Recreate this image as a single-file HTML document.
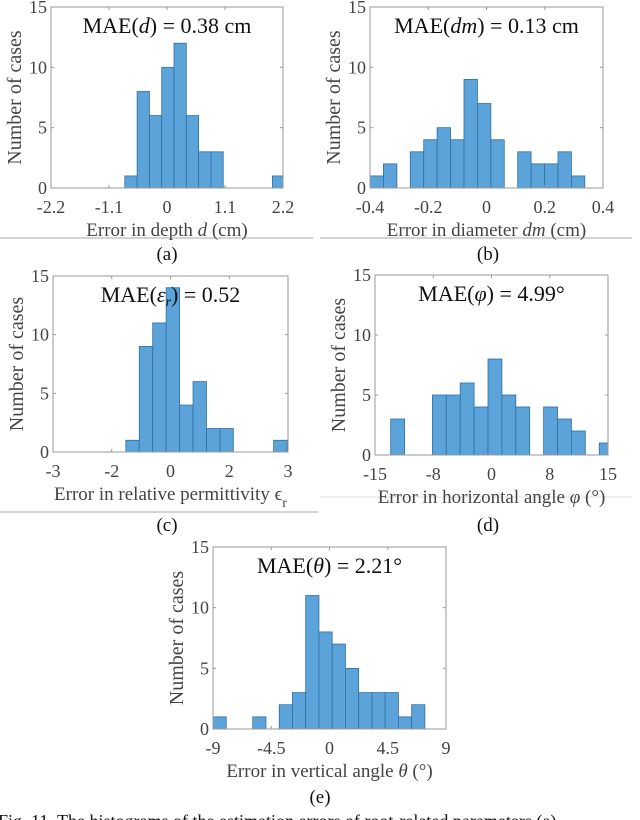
<!DOCTYPE html>
<html><head><meta charset="utf-8">
<style>
html,body{margin:0;padding:0;background:#fff;}
svg{display:block;font-family:"Liberation Serif","DejaVu Serif",serif;}
text{font-family:"Liberation Serif","DejaVu Serif",serif;}
</style></head>
<body>
<svg id="fig" width="640" height="820" viewBox="0 0 640 820" xmlns="http://www.w3.org/2000/svg">
<line x1="0" y1="238" x2="313" y2="238" stroke="#aaa" stroke-width="1"/>
<line x1="320" y1="238" x2="632" y2="238" stroke="#aaa" stroke-width="1"/>
<line x1="0" y1="512" x2="318" y2="512" stroke="#aaa" stroke-width="1"/>
<line x1="320" y1="497" x2="632" y2="497" stroke="#ddd" stroke-width="1"/>
<text x="167" y="260" font-size="19" text-anchor="middle" fill="#111">(a)</text>
<text x="488" y="260" font-size="19" text-anchor="middle" fill="#111">(b)</text>
<text x="167" y="531" font-size="19" text-anchor="middle" fill="#111">(c)</text>
<text x="488" y="531" font-size="19" text-anchor="middle" fill="#111">(d)</text>
<text x="320" y="803" font-size="19" text-anchor="middle" fill="#111">(e)</text>
<text x="-2" y="827" font-size="18" fill="#111">Fig. 11. The histograms of the estimation errors of root-related parameters (a)</text>
</svg>
<script>
// Panel (a) depth
const countsA = [1,8,6,10,12,6,3,3,0,0,0,0,1];
const ticksA = ["-2.2","-1.1","0","1.1","2.2"];
const tickValsA = [-2.2,-1.1,0,1.1,2.2];
// Panel (b) diameter
const countsB = [1,2,0,3,4,5,4,9,7,4,0,3,2,2,3,1];
const ticksB = ["-0.4","-0.2","0","0.2","0.4"];
const tickValsB = [-0.4,-0.2,0,0.2,0.4];
// Panel (c) permittivity
const countsC = [1,9,11,14,4,6,2,2,0,0,0,1];
const ticksC = ["-3","-2","0","2","3"];
const tickValsC = [-3,-1.5,0,1.5,3];
// Panel (d) horizontal angle
const countsD = [3,0,0,5,5,6,4,8,5,4,0,4,3,2,0,1];
const ticksD = ["-15","-8","0","8","15"];
const tickValsD = [-15,-7.5,0,7.5,15];
// Panel (e) vertical angle
const countsE = [1,0,0,1,0,2,3,11,8,7,5,3,3,3,1,2];
const ticksE = ["-9","-4.5","0","4.5","9"];
const tickValsE = [-9,-4.5,0,4.5,9];
const yTicks = [0,5,10,15];

const NS = "http://www.w3.org/2000/svg";
const FONT = '"Liberation Serif","DejaVu Serif",serif';
const svg = document.getElementById('fig');
function mk(tag, attrs, parent){
  const e = document.createElementNS(NS, tag);
  for (const k in attrs) e.setAttribute(k, attrs[k]);
  if (tag === 'text') e.setAttribute('font-family', FONT);
  (parent||svg).appendChild(e);
  return e;
}
function panel(id, box, xmin, xmax, binStart, binW, counts, tickVals, tickLabels, titleHTML, xlabelHTML){
  const g = mk('g', {});
  
  
  const {x0,x1,y0,y1} = box;
  const sx = v => x0 + (v - xmin) / (xmax - xmin) * (x1 - x0);
  const sy = v => y1 - v / 15 * (y1 - y0);
  const clip = mk('clipPath', {id:'clip-'+id}, g);
  mk('rect', {x:x0, y:y0, width:x1-x0, height:y1-y0}, clip);
  const bars = mk('g', {'clip-path':'url(#clip-'+id+')'}, g);
  counts.forEach((c, i) => {
    if (c <= 0) return;
    const a = sx(binStart + i*binW), b = sx(binStart + (i+1)*binW);
    const r = mk('rect', {x:a, y:sy(c), width:b-a, height:sy(0)-sy(c), fill:'#5ba3d9', stroke:'#2e6fa6', 'stroke-width':0.8}, bars);
    
    
  });
  const frame = mk('rect', {x:x0, y:y0, width:x1-x0, height:y1-y0, fill:'none', stroke:'#999', 'stroke-width':1}, g);
  
  
  yTicks.forEach(t => {
    const y = sy(t);
    mk('line', {x1:x0, y1:y, x2:x0+3, y2:y, stroke:'#999'}, g);
    mk('line', {x1:x1, y1:y, x2:x1-3, y2:y, stroke:'#999'}, g);
    const tx = mk('text', {x:x0-4, y:y+6, 'font-size':18, 'text-anchor':'end', fill:'#444'}, g);
    tx.textContent = t;
    
    
  });
  tickVals.forEach((v, i) => {
    const x = sx(v);
    mk('line', {x1:x, y1:y1, x2:x, y2:y1-3, stroke:'#999'}, g);
    mk('line', {x1:x, y1:y0, x2:x, y2:y0+3, stroke:'#999'}, g);
    const tx = mk('text', {x:x, y:y1+25, 'font-size':18, 'text-anchor':'middle', fill:'#444'}, g);
    tx.textContent = tickLabels[i];
    
    
  });
  const yl = mk('text', {x:0, y:0, 'font-size':20, 'text-anchor':'middle', fill:'#444', transform:'translate('+(x0-30)+','+((y0+y1)/2)+') rotate(-90)'}, g);
  yl.textContent = 'Number of cases';
  
  
  const xl = mk('text', {x:(x0+x1)/2, y:y1+48, 'font-size':19, 'text-anchor':'middle', fill:'#444'}, g);
  xl.innerHTML = xlabelHTML;
  
  
  const tt = mk('text', {x:(x0+x1)/2, y:y0+26, 'font-size':22, 'text-anchor':'middle', fill:'#111'}, g);
  tt.innerHTML = titleHTML;
  
  
}
panel('a', {x0:51,x1:283,y0:7,y1:188}, -2.2, 2.2, -0.8, 0.2333, countsA, tickValsA, ticksA,
  'MAE(<tspan font-style="italic">d</tspan>) = 0.38 cm', 'Error in depth <tspan font-style="italic">d</tspan> (cm)');
panel('b', {x0:370,x1:603,y0:7,y1:188}, -0.4, 0.4, -0.4, 0.0461, countsB, tickValsB, ticksB,
  'MAE(<tspan font-style="italic">dm</tspan>) = 0.13 cm', 'Error in diameter <tspan font-style="italic">dm</tspan> (cm)');
panel('c', {x0:53,x1:288,y0:276,y1:452}, -3, 3, -1.14, 0.343, countsC, tickValsC, ticksC,
  'MAE(<tspan font-style="italic">ε</tspan><tspan font-size="14" dy="4" font-style="italic">r</tspan><tspan dy="-4">) = 0.52</tspan>', 'Error in relative permittivity ϵ<tspan font-size="14" dy="7">r</tspan>');
panel('d', {x0:375,x1:608,y0:275,y1:455}, -15, 15, -12.98, 1.79, countsD, tickValsD, ticksD,
  'MAE(<tspan font-style="italic">φ</tspan>) = 4.99°', 'Error in horizontal angle <tspan font-style="italic">φ</tspan> (°)');
panel('e', {x0:213,x1:446,y0:547,y1:729}, -9, 9, -9, 1.023, countsE, tickValsE, ticksE,
  'MAE(<tspan font-style="italic">θ</tspan>) = 2.21°', 'Error in vertical angle <tspan font-style="italic">θ</tspan> (°)');
</script>
</body></html>
